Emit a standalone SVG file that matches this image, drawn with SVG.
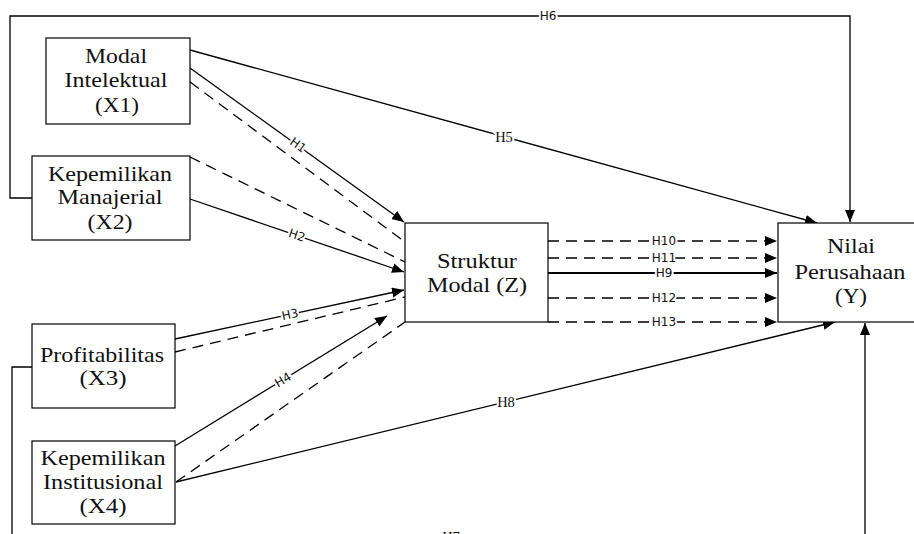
<svg xmlns="http://www.w3.org/2000/svg" width="914" height="534" viewBox="0 0 914 534">
  <style>
    .box { fill: #fff; stroke: #000; stroke-width: 1.2; }
    .node { font-family: "Liberation Serif", "Times New Roman", serif; font-size: 22px; fill: #111; text-anchor: middle; }
    .ln { fill: none; stroke: #000; stroke-width: 1.3; }
    .dash { stroke-dasharray: 11 7; }
    .bold { stroke-width: 2; }
    .lbl { font-family: "DejaVu Sans", sans-serif; font-size: 12px; fill: #111; text-anchor: middle; dominant-baseline: central; stroke: #fff; stroke-width: 4; paint-order: stroke; }
    .lbls { font-family: "Liberation Serif", serif; font-size: 14.5px; fill: #111; text-anchor: middle; dominant-baseline: central; stroke: #fff; stroke-width: 4; paint-order: stroke; }
  </style>
  <defs>
    <marker id="arr" markerUnits="userSpaceOnUse" markerWidth="13" markerHeight="11" refX="12" refY="5" orient="auto">
      <path d="M0,0 L12,5 L0,10 z" fill="#000"/>
    </marker>
  </defs>
  <rect width="914" height="534" fill="#fff"/>

  <g id="connectors">
    <!-- H6: X2 around the top to Y -->
    <path class="ln" d="M32,198 H10 V16 H850 V222" marker-end="url(#arr)"/>
    <text class="lbl" x="548" y="16">H6</text>
    <!-- H7: X3 around the bottom to Y -->
    <path class="ln" d="M32,367 H12 V542 H865 V323" marker-end="url(#arr)"/>
    <text class="lbls" x="451" y="537">H7</text>

    <!-- H5 -->
    <path class="ln" d="M190,50 L817,223" marker-end="url(#arr)"/>
    <text class="lbls" x="504" y="137">H5</text>
    <!-- H1 -->
    <path class="ln" d="M190,68 L404,222" marker-end="url(#arr)"/>
    <text class="lbl" transform="translate(298,145) rotate(35.7)">H1</text>
    <path class="ln dash" d="M190,82 L405,242"/>
    <!-- H2 -->
    <path class="ln dash" d="M190,157 L405,262"/>
    <path class="ln" d="M190,199 L404,272" marker-end="url(#arr)"/>
    <text class="lbl" transform="translate(297,235.5) rotate(18.8)">H2</text>
    <!-- H3 -->
    <path class="ln" d="M175,339 L404,290" marker-end="url(#arr)"/>
    <text class="lbl" transform="translate(290,314.5) rotate(-12.1)">H3</text>
    <path class="ln dash" d="M175,352 L405,297"/>
    <!-- H4 -->
    <path class="ln" d="M175,446 L387,316" marker-end="url(#arr)"/>
    <text class="lbl" transform="translate(283,380) rotate(-31.5)">H4</text>
    <path class="ln dash" d="M176,482 L405,322"/>
    <!-- H8 -->
    <path class="ln" d="M176,482 L835,322" marker-end="url(#arr)"/>
    <text class="lbls" x="506" y="402">H8</text>

    <!-- Z to Y -->
    <path class="ln dash" d="M548,241 H777" marker-end="url(#arr)"/>
    <text class="lbl" x="664" y="241">H10</text>
    <path class="ln dash" d="M548,258 H777" marker-end="url(#arr)"/>
    <text class="lbl" x="664" y="258">H11</text>
    <path class="ln bold" d="M548,273 H777" marker-end="url(#arr)"/>
    <text class="lbl" x="664" y="273">H9</text>
    <path class="ln dash" d="M548,298 H777" marker-end="url(#arr)"/>
    <text class="lbl" x="664" y="298">H12</text>
    <path class="ln dash" d="M548,322 H777" marker-end="url(#arr)"/>
    <text class="lbl" x="664" y="322">H13</text>
  </g>

  <g id="x1">
    <rect class="box" x="46" y="38" width="144" height="86"/>
    <text class="node" x="116" y="63" textLength="62" lengthAdjust="spacingAndGlyphs">Modal</text>
    <text class="node" x="116" y="87" textLength="103" lengthAdjust="spacingAndGlyphs">Intelektual</text>
    <text class="node" x="117" y="112" textLength="44" lengthAdjust="spacingAndGlyphs">(X1)</text>
  </g>
  <g id="x2">
    <rect class="box" x="32" y="156" width="158" height="84"/>
    <text class="node" x="110" y="181" textLength="124" lengthAdjust="spacingAndGlyphs">Kepemilikan</text>
    <text class="node" x="110" y="204" textLength="105" lengthAdjust="spacingAndGlyphs">Manajerial</text>
    <text class="node" x="110" y="229" textLength="45" lengthAdjust="spacingAndGlyphs">(X2)</text>
  </g>
  <g id="x3">
    <rect class="box" x="32" y="324" width="143" height="84"/>
    <text class="node" x="102" y="362" textLength="124" lengthAdjust="spacingAndGlyphs">Profitabilitas</text>
    <text class="node" x="103" y="385" textLength="47" lengthAdjust="spacingAndGlyphs">(X3)</text>
  </g>
  <g id="x4">
    <rect class="box" x="32" y="441" width="143" height="83"/>
    <text class="node" x="103" y="465" textLength="125" lengthAdjust="spacingAndGlyphs">Kepemilikan</text>
    <text class="node" x="103" y="489" textLength="120" lengthAdjust="spacingAndGlyphs">Institusional</text>
    <text class="node" x="103" y="513" textLength="47" lengthAdjust="spacingAndGlyphs">(X4)</text>
  </g>
  <g id="z">
    <rect class="box" x="405" y="223" width="143" height="99"/>
    <text class="node" x="477" y="268" textLength="80" lengthAdjust="spacingAndGlyphs">Struktur</text>
    <text class="node" x="477" y="292" textLength="100" lengthAdjust="spacingAndGlyphs">Modal (Z)</text>
  </g>
  <g id="y">
    <rect class="box" x="778" y="223" width="144" height="99"/>
    <text class="node" x="851" y="253" textLength="48" lengthAdjust="spacingAndGlyphs">Nilai</text>
    <text class="node" x="850" y="279" textLength="111" lengthAdjust="spacingAndGlyphs">Perusahaan</text>
    <text class="node" x="851" y="303" textLength="32" lengthAdjust="spacingAndGlyphs">(Y)</text>
  </g>
</svg>
